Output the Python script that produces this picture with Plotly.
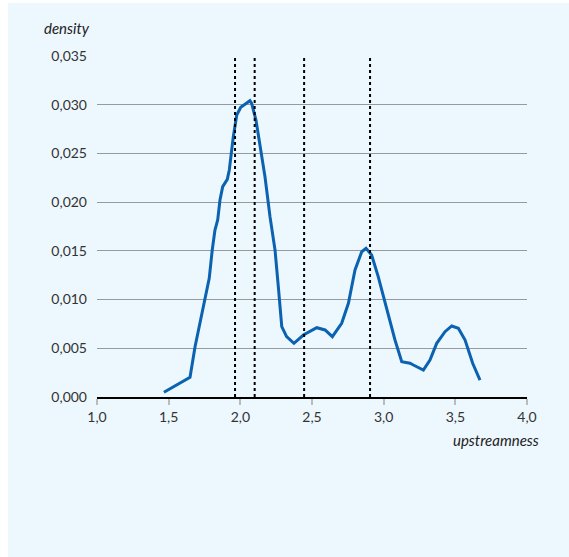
import plotly.graph_objects as go

# Kernel density estimate of upstreamness
upstreamness = [1.467, 1.649, 1.684, 1.730, 1.754, 1.783, 1.804, 1.823, 1.842, 1.858,
                1.877, 1.909, 1.923, 1.951, 1.975, 2.003, 2.067, 2.079, 2.109, 2.137,
                2.172, 2.207, 2.242, 2.265, 2.289, 2.323, 2.374, 2.440, 2.533, 2.591,
                2.642, 2.707, 2.754, 2.800, 2.847, 2.877, 2.916, 2.962, 3.021, 3.079,
                3.126, 3.184, 3.207, 3.277, 3.323, 3.370, 3.428, 3.475, 3.521, 3.568,
                3.621, 3.672]
density = [0.00048, 0.00202, 0.00516, 0.00859, 0.01010, 0.01218, 0.01509, 0.01714, 0.01817, 0.02022,
           0.02159, 0.02234, 0.02330, 0.02672, 0.02894, 0.02973, 0.03041, 0.03014, 0.02843, 0.02569,
           0.02261, 0.01851, 0.01509, 0.01132, 0.00722, 0.00619, 0.00551, 0.00636, 0.00711, 0.00688,
           0.00619, 0.00756, 0.00962, 0.01304, 0.01491, 0.01526, 0.01458, 0.01235, 0.00893, 0.00585,
           0.00362, 0.00346, 0.00328, 0.00277, 0.00380, 0.00551, 0.00670, 0.00729, 0.00705, 0.00585,
           0.00346, 0.00174]

# Reference values marked by dotted vertical lines
markers = [1.963, 2.100, 2.445, 2.905]

x_ticks = [1.0, 1.5, 2.0, 2.5, 3.0, 3.5, 4.0]
y_ticks = [0.000, 0.005, 0.010, 0.015, 0.020, 0.025, 0.030, 0.035]

W, H = 569, 557
L, R, T, B = 97, 42, 56, 160
pw, ph = W - L - R, H - T - B

FONT = "Lato, 'Noto Sans', sans-serif"
BLUE = "#0a62b0"

fig = go.Figure()
fig.add_trace(go.Scatter(
    x=upstreamness, y=density, mode="lines",
    line=dict(color=BLUE, width=3),
    hoverinfo="skip", showlegend=False,
))

# light blue panel behind the chart
shapes = [dict(
    type="rect", xref="paper", yref="paper", layer="below",
    x0=(8 - L) / pw, x1=(W - L) / pw,
    y0=-(H - T - ph) / ph, y1=1 + (T - 3) / ph,
    fillcolor="#edf7fe", line=dict(width=0),
)]
for m in markers:
    shapes.append(dict(
        type="line", xref="x", yref="y", x0=m, x1=m, y0=0, y1=y_ticks[-1],
        line=dict(color="black", width=2, dash="3px,3px"),
    ))

annotations = [
    dict(text="<i>density</i>", xref="paper", yref="paper",
         x=(42 - L) / pw, y=1 + (T - 28) / ph, xanchor="left", yanchor="middle",
         showarrow=False, font=dict(family=FONT, size=15, color="#222")),
    dict(text="<i>upstreamness</i>", xref="paper", yref="paper",
         x=(541 - L) / pw, y=-(440 - T - ph) / ph, xanchor="right", yanchor="middle",
         showarrow=False, font=dict(family=FONT, size=15, color="#222")),
]

fig.update_layout(
    width=W, height=H,
    margin=dict(l=L, r=R, t=T, b=B, pad=0),
    paper_bgcolor="white", plot_bgcolor="rgba(0,0,0,0)",
    separators=", ",
    shapes=shapes, annotations=annotations,
    font=dict(family=FONT, size=14, color="#333"),
    xaxis=dict(
        range=[1.0, 4.0], tickvals=x_ticks, tickformat=".1f",
        showgrid=False, zeroline=False,
        showline=True, linecolor="black", linewidth=1.5,
        ticks="outside", ticklen=6, tickcolor="#bbb", tickwidth=1.5,
        fixedrange=True,
    ),
    yaxis=dict(
        range=[0, 0.035], tickvals=y_ticks, tickformat=".3f",
        showgrid=True, gridcolor="#959a9f", gridwidth=1,
        zeroline=False, showline=False, ticks="", ticklabelstandoff=9,
        fixedrange=True,
    ),
)

fig.write_html("out.html")
